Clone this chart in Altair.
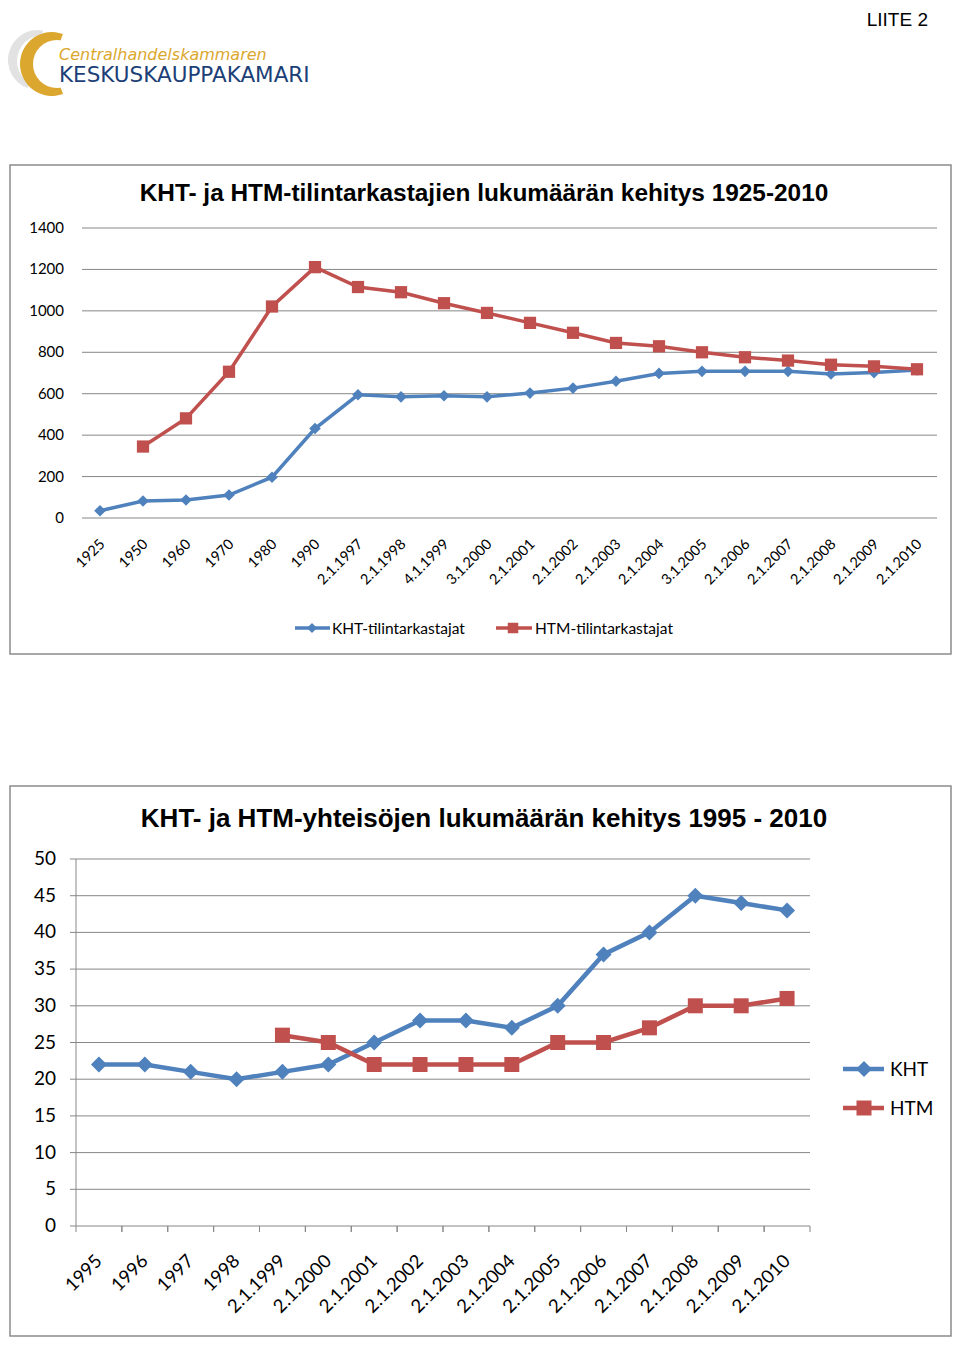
import altair as alt
import pandas as pd

# ---------------- data ----------------
top_title = "KHT- ja HTM-tilintarkastajien lukumäärän kehitys 1925-2010"
top_categories = ["1925", "1950", "1960", "1970", "1980", "1990", "2.1.1997", "2.1.1998",
                  "4.1.1999", "3.1.2000", "2.1.2001", "2.1.2002", "2.1.2003", "2.1.2004",
                  "3.1.2005", "2.1.2006", "2.1.2007", "2.1.2008", "2.1.2009", "2.1.2010"]
top_series = ["KHT-tilintarkastajat", "HTM-tilintarkastajat"]
top_kht = [35, 82, 87, 111, 197, 432, 595, 585, 590, 585, 603, 627, 660, 698, 708, 708, 708, 695, 702, 715]
top_htm = [None, 345, 481, 706, 1021, 1211, 1115, 1090, 1037, 990, 942, 894, 845, 829, 800, 776, 760, 740, 732, 718]
top_ticks = [0, 200, 400, 600, 800, 1000, 1200, 1400]

bottom_title = "KHT- ja HTM-yhteisöjen lukumäärän kehitys 1995 - 2010"
bottom_categories = ["1995", "1996", "1997", "1998", "2.1.1999", "2.1.2000", "2.1.2001", "2.1.2002",
                     "2.1.2003", "2.1.2004", "2.1.2005", "2.1.2006", "2.1.2007", "2.1.2008",
                     "2.1.2009", "2.1.2010"]
bottom_series = ["KHT", "HTM"]
bottom_kht = [22, 22, 21, 20, 21, 22, 25, 28, 28, 27, 30, 37, 40, 45, 44, 43]
bottom_htm = [None, None, None, None, 26, 25, 22, 22, 22, 22, 25, 25, 27, 30, 30, 31]
bottom_ticks = [0, 5, 10, 15, 20, 25, 30, 35, 40, 45, 50]

page_label = "LIITE 2"
logo_line1 = "Centralhandelskammaren"
logo_line2 = "KESKUSKAUPPAKAMARI"

# ---------------- styles ----------------
BLUE = "#4F81BD"
RED = "#C0504D"
GRID = "#878787"
BOX = "#8C8C8C"
GOLD = "#DBA72E"
NAVY = "#1D3F77"
LABEL_FONT = "Lato"
TITLE_FONT = "Liberation Sans"
W, H = 944, 1329


def long_df(cats, names, lists):
    rows = []
    for s, vals in zip(names, lists):
        for i, (c, v) in enumerate(zip(cats, vals)):
            if v is not None:
                rows.append({"cat": c, "idx": i, "series": s, "value": v})
    return pd.DataFrame(rows)


one = pd.DataFrame({"k": [0]})

# ---------------- header ----------------
gray_arc = alt.Chart(one).mark_arc(outerRadius=30, theta=3.5, theta2=6.45,
                                   color="#E2E2E2").encode(x=alt.value(30), y=alt.value(52))
gray_hole = alt.Chart(one).mark_point(shape="circle", filled=True, size=2704, opacity=1,
                                      color="white").encode(x=alt.value(35), y=alt.value(53))
gold_arc = alt.Chart(one).mark_arc(outerRadius=32, theta=2.79, theta2=6.63,
                                   color=GOLD).encode(x=alt.value(44), y=alt.value(56))
gold_hole = alt.Chart(one).mark_point(shape="circle", filled=True, size=2304, opacity=1,
                                      color="white").encode(x=alt.value(49), y=alt.value(56))
logo_t1 = alt.Chart(one).mark_text(text=logo_line1, align="left", baseline="alphabetic",
                                   font="DejaVu Sans", fontStyle="italic", fontSize=16,
                                   color=GOLD).encode(x=alt.value(51), y=alt.value(52))
logo_t2 = alt.Chart(one).mark_text(text=logo_line2, align="left", baseline="alphabetic",
                                   font="DejaVu Sans", fontSize=21.5,
                                   color=NAVY).encode(x=alt.value(51), y=alt.value(74))
liite = alt.Chart(one).mark_text(text=page_label, align="right", baseline="top",
                                 font=TITLE_FONT, fontSize=19,
                                 color="#000000").encode(x=alt.value(920), y=alt.value(3))
header = [gray_arc, gray_hole, gold_arc, gold_hole, logo_t1, logo_t2, liite]

# ---------------- top chart ----------------
top_df = long_df(top_categories, top_series, [top_kht, top_htm])
top_cat_df = pd.DataFrame({"cat": top_categories})
top_tick_df = pd.DataFrame({"t": top_ticks, "label": [str(t) for t in top_ticks]})

tx = alt.Scale(type="point", domain=top_categories, range=[92, 909], padding=0)
ty = alt.Scale(type="linear", domain=[0, 1400], range=[510, 220], nice=False, zero=False)
tcol = alt.Scale(domain=top_series, range=[BLUE, RED])
tshape = alt.Scale(domain=top_series, range=["diamond", "square"])
tsize = alt.Scale(domain=top_series, range=[135, 150])

top_box = alt.Chart(one).mark_rect(fillOpacity=0, stroke=BOX, strokeWidth=1.5).encode(
    x=alt.value(2), x2=alt.value(943), y=alt.value(157), y2=alt.value(646))
top_title_m = alt.Chart(one).mark_text(text=top_title, align="center", baseline="middle",
                                       font=TITLE_FONT, fontWeight="bold", fontSize=24.4,
                                       color="#000000").encode(x=alt.value(476), y=alt.value(186))
top_grid = alt.Chart(top_tick_df).mark_rule(color=GRID, strokeWidth=1).encode(
    y=alt.Y("t:Q", scale=ty, axis=None), x=alt.value(74), x2=alt.value(929))
top_ylab = alt.Chart(top_tick_df).mark_text(align="right", baseline="middle", font=LABEL_FONT,
                                            fontSize=15, color="#000000").encode(
    y=alt.Y("t:Q", scale=ty, axis=None), x=alt.value(56), text="label:N")
top_xlab = alt.Chart(top_cat_df).mark_text(angle=315, align="right", baseline="middle", dx=4,
                                           font=LABEL_FONT, fontSize=14.5, color="#000000").encode(
    x=alt.X("cat:N", scale=tx, axis=None), y=alt.value(537), text="cat:N")
top_line = alt.Chart(top_df).mark_line(strokeWidth=3.5).encode(
    x=alt.X("cat:N", scale=tx, axis=None),
    y=alt.Y("value:Q", scale=ty, axis=None),
    color=alt.Color("series:N", scale=tcol, legend=None),
    order="idx:Q")
top_pts = alt.Chart(top_df).mark_point(filled=True, opacity=1).encode(
    x=alt.X("cat:N", scale=tx, axis=None),
    y=alt.Y("value:Q", scale=ty, axis=None),
    color=alt.Color("series:N", scale=tcol, legend=None),
    shape=alt.Shape("series:N", scale=tshape, legend=None),
    size=alt.Size("series:N", scale=tsize, legend=None))

# legend (top)
tl_kht_line = alt.Chart(one).mark_rule(color=BLUE, strokeWidth=3.5).encode(
    x=alt.value(287), x2=alt.value(322), y=alt.value(620))
tl_kht_pt = alt.Chart(one).mark_point(shape="diamond", filled=True, size=100, opacity=1,
                                      color=BLUE).encode(x=alt.value(304), y=alt.value(620))
tl_kht_txt = alt.Chart(one).mark_text(text=top_series[0], align="left", baseline="middle",
                                      font=LABEL_FONT, fontSize=15.5, color="#000000").encode(
    x=alt.value(324), y=alt.value(621))
tl_htm_line = alt.Chart(one).mark_rule(color=RED, strokeWidth=3.5).encode(
    x=alt.value(488), x2=alt.value(524), y=alt.value(620))
tl_htm_pt = alt.Chart(one).mark_point(shape="square", filled=True, size=110, opacity=1,
                                      color=RED).encode(x=alt.value(505), y=alt.value(620))
tl_htm_txt = alt.Chart(one).mark_text(text=top_series[1], align="left", baseline="middle",
                                      font=LABEL_FONT, fontSize=15.5, color="#000000").encode(
    x=alt.value(527), y=alt.value(621))

top_layer = alt.layer(top_box, top_title_m, top_grid, top_ylab, top_xlab, top_line, top_pts,
                      tl_kht_line, tl_kht_pt, tl_kht_txt, tl_htm_line, tl_htm_pt, tl_htm_txt)

# ---------------- bottom chart ----------------
bot_df = long_df(bottom_categories, bottom_series, [bottom_kht, bottom_htm])
bot_cat_df = pd.DataFrame({"cat": bottom_categories})
bot_tick_df = pd.DataFrame({"t": bottom_ticks, "label": [str(t) for t in bottom_ticks]})

bx = alt.Scale(type="band", domain=bottom_categories, range=[68, 802], paddingInner=0, paddingOuter=0)
by = alt.Scale(type="linear", domain=[0, 50], range=[1218, 851], nice=False, zero=False)
bcol = alt.Scale(domain=bottom_series, range=[BLUE, RED])
bshape = alt.Scale(domain=bottom_series, range=["diamond", "square"])
bsize = alt.Scale(domain=bottom_series, range=[256, 225])

bot_box = alt.Chart(one).mark_rect(fillOpacity=0, stroke=BOX, strokeWidth=1.5).encode(
    x=alt.value(2), x2=alt.value(943), y=alt.value(778), y2=alt.value(1328))
bot_title_m = alt.Chart(one).mark_text(text=bottom_title, align="center", baseline="middle",
                                       font=TITLE_FONT, fontWeight="bold", fontSize=26,
                                       color="#000000").encode(x=alt.value(476), y=alt.value(811))
bot_grid = alt.Chart(bot_tick_df).mark_rule(color=GRID, strokeWidth=1).encode(
    y=alt.Y("t:Q", scale=by, axis=None), x=alt.value(62), x2=alt.value(802))
bot_yaxis = alt.Chart(one).mark_rule(color=GRID, strokeWidth=1).encode(
    x=alt.value(68), y=alt.value(851), y2=alt.value(1218))
bot_xticks = alt.Chart(bot_cat_df).mark_rule(color=GRID, strokeWidth=1).encode(
    x=alt.X("cat:N", scale=bx, axis=None, bandPosition=0), y=alt.value(1218), y2=alt.value(1224))
bot_xticks_end = alt.Chart(bot_cat_df).mark_rule(color=GRID, strokeWidth=1).encode(
    x=alt.X("cat:N", scale=bx, axis=None, bandPosition=1), y=alt.value(1218), y2=alt.value(1224))
bot_ylab = alt.Chart(bot_tick_df).mark_text(align="right", baseline="middle", font=LABEL_FONT,
                                            fontSize=19, color="#000000").encode(
    y=alt.Y("t:Q", scale=by, axis=None), x=alt.value(48), text="label:N")
bot_xlab = alt.Chart(bot_cat_df).mark_text(angle=315, align="right", baseline="middle",
                                           font=LABEL_FONT, fontSize=18.5, color="#000000").encode(
    x=alt.X("cat:N", scale=bx, axis=None, bandPosition=0.5), y=alt.value(1250), text="cat:N")
bot_line = alt.Chart(bot_df).mark_line(strokeWidth=4.5).encode(
    x=alt.X("cat:N", scale=bx, axis=None, bandPosition=0.5),
    y=alt.Y("value:Q", scale=by, axis=None),
    color=alt.Color("series:N", scale=bcol, legend=None),
    order="idx:Q")
bot_pts = alt.Chart(bot_df).mark_point(filled=True, opacity=1).encode(
    x=alt.X("cat:N", scale=bx, axis=None, bandPosition=0.5),
    y=alt.Y("value:Q", scale=by, axis=None),
    color=alt.Color("series:N", scale=bcol, legend=None),
    shape=alt.Shape("series:N", scale=bshape, legend=None),
    size=alt.Size("series:N", scale=bsize, legend=None))

bl_kht_line = alt.Chart(one).mark_rule(color=BLUE, strokeWidth=4.5).encode(
    x=alt.value(835), x2=alt.value(876), y=alt.value(1061))
bl_kht_pt = alt.Chart(one).mark_point(shape="diamond", filled=True, size=256, opacity=1,
                                      color=BLUE).encode(x=alt.value(856), y=alt.value(1061))
bl_kht_txt = alt.Chart(one).mark_text(text=bottom_series[0], align="left", baseline="middle",
                                      font=LABEL_FONT, fontSize=19, color="#000000").encode(
    x=alt.value(882), y=alt.value(1062))
bl_htm_line = alt.Chart(one).mark_rule(color=RED, strokeWidth=4.5).encode(
    x=alt.value(835), x2=alt.value(876), y=alt.value(1100))
bl_htm_pt = alt.Chart(one).mark_point(shape="square", filled=True, size=225, opacity=1,
                                      color=RED).encode(x=alt.value(856), y=alt.value(1100))
bl_htm_txt = alt.Chart(one).mark_text(text=bottom_series[1], align="left", baseline="middle",
                                      font=LABEL_FONT, fontSize=19, color="#000000").encode(
    x=alt.value(882), y=alt.value(1101))

bottom_layer = alt.layer(bot_box, bot_title_m, bot_grid, bot_yaxis, bot_xticks, bot_xticks_end,
                         bot_ylab, bot_xlab, bot_line, bot_pts,
                         bl_kht_line, bl_kht_pt, bl_kht_txt, bl_htm_line, bl_htm_pt, bl_htm_txt)

chart = alt.layer(*header, top_layer, bottom_layer).resolve_scale(
    x="independent", y="independent", color="independent", shape="independent", size="independent"
).properties(width=W, height=H, padding=0, autosize="none").configure_view(stroke=None)

chart.save("out.html", embed_options={"renderer": "svg", "actions": False})
